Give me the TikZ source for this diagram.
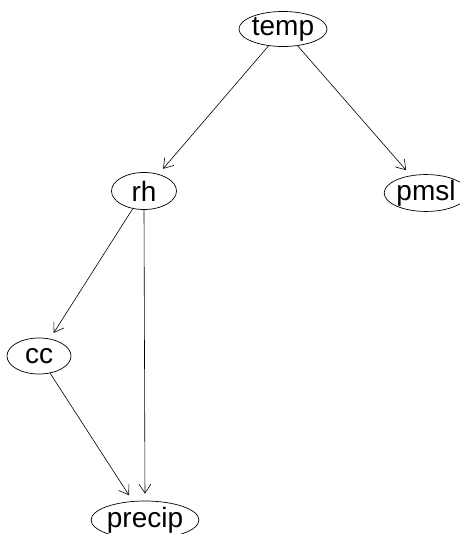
\documentclass[tikz,border=0pt]{standalone}
\usepackage{fontspec}
\setmainfont{Liberation Sans}
\usetikzlibrary{arrows.meta,shapes.geometric}
\begin{document}
\begin{tikzpicture}[x=1pt,y=-1pt,
  vnode/.style={draw, ellipse, inner sep=0pt, font=\fontsize{28}{28}\selectfont, line width=0.7pt},
  conn/.style={draw, line width=0.6pt, -{Straight Barb[length=9pt,width=12pt]}, shorten >=7pt}]
\useasboundingbox (0,0) rectangle (459,534);
\node[vnode, minimum width=75pt, minimum height=35pt] (temp) at (283,29) {temp};
\node[vnode, minimum width=68pt, minimum height=36pt] (pmsl) at (426,193) {pmsl};
\node[vnode, minimum width=65pt, minimum height=37pt] (rh) at (144,191) {rh};
\node[vnode, minimum width=64pt, minimum height=36pt] (cc) at (39,356) {cc};
\node[vnode, minimum width=86pt, minimum height=38pt] (precip) at (145,520) {precip};
\draw[conn] (temp) -- (rh);
\draw[conn] (temp) -- (pmsl);
\draw[conn] (rh) -- (cc);
\draw[conn] (rh.south) -- (precip.north);
\draw[conn] (cc) -- (precip);
\end{tikzpicture}
\end{document}
